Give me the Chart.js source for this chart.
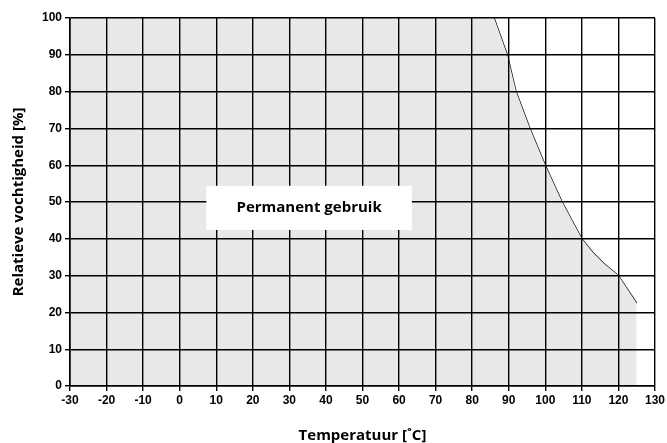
<!DOCTYPE html>
<html>
<head>
<meta charset="utf-8">
<script src="https://cdn.jsdelivr.net/npm/chart.js@4"></script>
<style>
  html, body { margin: 0; padding: 0; background: #fff; }
  #wrap { width: 667px; height: 443px; }
</style>
</head>
<body>
<div id="wrap"><canvas id="chart" width="667" height="443"></canvas></div>
<script>
// limit curve: temperature [°C] vs relative humidity [%]
const curveTemp = [86, 89.6, 92, 95.8, 100, 104.6, 110, 113, 116, 120, 125];
const curveHum  = [100, 90, 80, 70, 60, 50, 40, 36.3, 33.3, 30, 22.5];
const xTicks = [-30, -20, -10, 0, 10, 20, 30, 40, 50, 60, 70, 80, 90, 100, 110, 120, 130];
const yTicks = [0, 10, 20, 30, 40, 50, 60, 70, 80, 90, 100];
const areaLabel = 'Permanent gebruik';
const labelBox = { x1: 7.3, x2: 63.5, y1: 42.4, y2: 54.4 };

const curvePts = curveTemp.map((t, i) => ({ x: t, y: curveHum[i] }));
const areaPts = [{ x: -30, y: 100 }, ...curvePts, { x: 125, y: 0 }];

const labelPlugin = {
    id: 'areaLabel',
    afterDraw(chart) {
        const { ctx, scales } = chart;
        const l = scales.x.getPixelForValue(labelBox.x1);
        const r = scales.x.getPixelForValue(labelBox.x2);
        const t = scales.y.getPixelForValue(labelBox.y2);
        const b = scales.y.getPixelForValue(labelBox.y1);
        ctx.save();
        ctx.fillStyle = '#fff';
        ctx.fillRect(l, t, r - l, b - t);
        ctx.fillStyle = '#000';
        ctx.font = 'bold 15px "Open Sans"';
        ctx.textAlign = 'center';
        ctx.textBaseline = 'middle';
        ctx.fillText(areaLabel, (l + r) / 2, (t + b) / 2);
        ctx.restore();
    }
};

const tickFont = { family: '"Liberation Sans"', weight: 'bold', size: 12 };
const titleFont = { family: '"Open Sans"', weight: 'bold', size: 15, lineHeight: 1.2 };

const ctx = document.getElementById('chart').getContext('2d');
new Chart(ctx, {
    type: 'scatter',
    data: {
        datasets: [
            {
                data: areaPts,
                showLine: true,
                fill: 'origin',
                backgroundColor: '#e8e8e8',
                borderWidth: 0,
                pointRadius: 0,
                tension: 0
            },
            {
                data: curvePts,
                showLine: true,
                fill: false,
                borderColor: '#000',
                borderWidth: 1.3,
                pointRadius: 0,
                tension: 0
            }
        ]
    },
    options: {
        responsive: false,
        animation: false,
        layout: { padding: { top: 18, right: 10, left: 0, bottom: 0 } },
        plugins: { legend: { display: false }, tooltip: { enabled: false } },
        scales: {
            x: {
                type: 'linear',
                min: -30,
                max: 130,
                afterBuildTicks: (axis) => { axis.ticks = xTicks.map(v => ({ value: v })); },
                afterFit: (axis) => { axis.height = 57; },
                ticks: { color: '#000', font: tickFont, padding: 2 },
                grid: { z: 1, color: '#000', lineWidth: 1.4, tickLength: 5, tickColor: '#000' },
                border: { z: 1, color: '#000', width: 1.6 },
                title: {
                    display: true,
                    text: 'Temperatuur [˚C]',
                    color: '#000',
                    font: { ...titleFont, lineHeight: 1 },
                    padding: { top: 14, bottom: 0 }
                }
            },
            y: {
                min: 0,
                max: 100,
                afterBuildTicks: (axis) => { axis.ticks = yTicks.map(v => ({ value: v })); },
                afterFit: (axis) => { axis.width = 70; },
                ticks: { color: '#000', font: tickFont, padding: 3 },
                grid: { z: 1, color: '#000', lineWidth: 1.4, tickLength: 5, tickColor: '#000' },
                border: { z: 1, color: '#000', width: 1.6 },
                title: {
                    display: true,
                    text: 'Relatieve vochtigheid [%]',
                    color: '#000',
                    font: titleFont,
                    padding: { top: 10, bottom: 0 }
                }
            }
        }
    },
    plugins: [labelPlugin]
});
</script>
</body>
</html>
